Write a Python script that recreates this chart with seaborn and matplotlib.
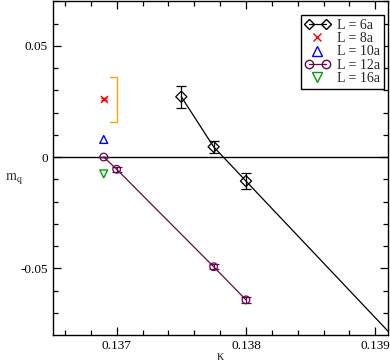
import numpy as np
import pandas as pd
import matplotlib
matplotlib.use("Agg")
import matplotlib.pyplot as plt
from matplotlib.lines import Line2D
from matplotlib.legend_handler import HandlerLine2D
import seaborn as sns

# ---- data ----
k6 = [0.1375, 0.13775, 0.1380]
m6 = [0.0271, 0.0046, -0.0108]
e6 = [0.0049, 0.0026, 0.0036]
# line drawn for L=6a (through the points and extrapolated)
k6_line = [0.1375, 0.13775, 0.1380, 0.1392]
m6_line = [0.0271, 0.0046, -0.0108, -0.0845]

k8 = [0.1369]
m8 = [0.0261]
e8 = [0.0005]

k10 = [0.1369]
m10 = [0.0079]

k12 = [0.1369, 0.1370, 0.13775, 0.1380]
m12 = [0.0, -0.0055, -0.0493, -0.0642]
e12 = [0.0, 0.0011, 0.0012, 0.0012]

k16 = [0.1369]
m16 = [-0.0076]

bracket_k = [0.13695, 0.1370, 0.1370, 0.13695]
bracket_m = [0.0361, 0.0361, 0.0159, 0.0159]

labels = ["L = 6a", "L = 8a", "L = 10a", "L = 12a", "L = 16a"]

# ---- style ----
sns.set_style("ticks")
plt.rcParams['font.family'] = ['Liberation Serif', 'DejaVu Serif']
plt.rcParams['mathtext.fontset'] = 'stix'
plt.rcParams['font.size'] = 9.5

c6 = 'black'
c8 = '#ff0000'
c10 = '#0000ff'
c12 = '#670748'
c16 = '#00a000'
corange = '#ffa500'

fig = plt.figure(figsize=(3.9, 3.63), dpi=100)
ax = fig.add_axes([0.135, 0.0771, 0.859, 0.9193])

ax.axhline(0, color='black', lw=1.0, zorder=1)

# bracket
sns.lineplot(x=bracket_k, y=bracket_m, ax=ax, color=corange, lw=1.0, sort=False,
             estimator=None)

# L = 6a
sns.lineplot(x=k6_line, y=m6_line, ax=ax, color=c6, lw=0.9, sort=False, estimator=None)
ax.errorbar(k6, m6, yerr=e6, fmt='none', ecolor=c6, elinewidth=0.9, capsize=3.5, capthick=0.9)
sns.scatterplot(x=k6, y=m6, ax=ax, marker='D', s=32, facecolor='none',
                edgecolor=c6, linewidth=0.9, zorder=5)

# L = 8a
ax.errorbar(k8, m8, yerr=e8, fmt='none', ecolor=c8, elinewidth=0.9, capsize=2.5)
sns.scatterplot(x=k8, y=m8, ax=ax, marker='x', s=25, color=c8, linewidth=1.0, zorder=5)

# L = 10a
sns.scatterplot(x=k10, y=m10, ax=ax, marker='^', s=32, facecolor='none',
                edgecolor=c10, linewidth=1.0, zorder=5)

# L = 12a
sns.lineplot(x=k12, y=m12, ax=ax, color=c12, lw=0.9, sort=False, estimator=None)
ax.errorbar(k12, m12, yerr=e12, fmt='none', ecolor=c12, elinewidth=0.9, capsize=3.5, capthick=0.9)
sns.scatterplot(x=k12, y=m12, ax=ax, marker='o', s=30, facecolor='none',
                edgecolor=c12, linewidth=0.9, zorder=5)

# L = 16a
sns.scatterplot(x=k16, y=m16, ax=ax, marker='v', s=32, facecolor='none',
                edgecolor=c16, linewidth=1.0, zorder=5)

# ---- axes ----
ax.set_xlim(0.136505, 0.139096)
ax.set_ylim(-0.08, 0.07)
ax.set_xticks([0.137, 0.138, 0.139])
ax.set_xticklabels(['0.137', '0.138', '0.139'])
ax.set_xticks(np.arange(0.1366, 0.13910, 0.0002), minor=True)
ax.set_yticks([-0.05, 0.0, 0.05])
ax.set_yticklabels(['-0.05', '0', '0.05'])
ax.set_yticks(np.arange(-0.07, 0.0701, 0.01), minor=True)
ax.tick_params(which='both', direction='in', top=True, right=True, colors='black',
               labelsize=9.5)
ax.tick_params(which='major', length=6, width=0.9)
ax.tick_params(which='minor', length=3.5, width=0.9)
for sp in ax.spines.values():
    sp.set_color('black')
    sp.set_linewidth(1.0)

ax.set_xlabel('κ', fontsize=10)
ax.xaxis.set_label_coords(0.5, -0.045)
ax.set_ylabel(r'$\mathrm{m_q}$', fontsize=10, rotation=0, va='center', ha='center')
ax.yaxis.set_label_coords(-0.115, 0.47)

# ---- legend ----
h6 = Line2D([], [], color=c6, lw=0.9, marker='D', ms=5.5, mfc='none', mec=c6)
h8 = Line2D([], [], color=c8, lw=0, marker='x', ms=5.5)
h10 = Line2D([], [], color=c10, lw=0, marker='^', ms=6.5, mfc='none', mec=c10)
h12 = Line2D([], [], color=c12, lw=0.9, marker='o', ms=6, mfc='none', mec=c12)
h16 = Line2D([], [], color=c16, lw=0, marker='v', ms=6.5, mfc='none', mec=c16)
leg = ax.legend([h6, h8, h10, h12, h16], labels, loc='upper right',
                bbox_to_anchor=(0.989, 0.96), numpoints=2, fancybox=False,
                framealpha=1, edgecolor='black', fontsize=10,
                handlelength=1.8, handletextpad=0.5, borderpad=0.3,
                labelspacing=0.02, borderaxespad=0.0,
                handler_map={h8: HandlerLine2D(numpoints=1),
                             h10: HandlerLine2D(numpoints=1),
                             h16: HandlerLine2D(numpoints=1)})
leg.get_frame().set_linewidth(1.0)

fig.savefig('out.png', dpi=100)
